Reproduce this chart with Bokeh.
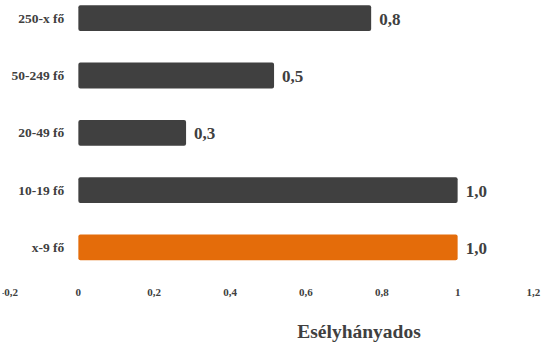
from bokeh.plotting import figure
from bokeh.models import ColumnDataSource, Range1d, FixedTicker, CustomJSTickFormatter, Label
from bokeh.core.properties import value
from bokeh.embed import file_html
from bokeh.resources import INLINE

# Data (bottom to top)
categories = ["x-9 fő", "10-19 fő", "20-49 fő", "50-249 fő", "250-x fő"]
odds = [1.0, 1.0, 0.284, 0.516, 0.772]
value_labels = ["1,0", "1,0", "0,3", "0,5", "0,8"]
bar_colors = ["#E46C0A", "#404040", "#404040", "#404040", "#404040"]
x_ticks = [-0.2, 0, 0.2, 0.4, 0.6, 0.8, 1.0, 1.2]
x_title = "Esélyhányados"

FONT = "Liberation Serif"
TXT = "#404040"

src = ColumnDataSource(dict(
    y=list(range(len(categories))),
    cat=categories,
    v=odds,
    lab=value_labels,
    c=bar_colors,
))

# layout (data units): plot spans these ranges, axis sits at Y_AXIS
X_START, X_END = -0.2, 1.2264
Y_TOP = 4.3083
Y_AXIS = -0.6583
Y_BOTTOM = -1.6583
Y_TITLE = -1.47

p = figure(width=543, height=342, output_backend="svg", toolbar_location=None,
           x_range=Range1d(X_START, X_END), y_range=Range1d(Y_BOTTOM, Y_TOP),
           min_border_left=2, min_border_right=0, min_border_top=0, min_border_bottom=0)
p.outline_line_color = None
p.background_fill_color = "white"
p.border_fill_color = "white"
p.xgrid.visible = False
p.ygrid.visible = False
p.yaxis.visible = False

p.hbar(y="y", right="v", left=0, height=0.45, fill_color="c", line_color=None,
       border_radius=2, source=src)

p.text(x=0, y="y", text="cat", x_offset=-14, text_align="right", text_baseline="middle",
       text_font=value(FONT), text_font_style="bold", text_font_size="13.5px",
       text_color=TXT, source=src)
p.text(x="v", y="y", text="lab", x_offset=8, y_offset=1, text_align="left", text_baseline="middle",
       text_font=value(FONT), text_font_style="bold", text_font_size="17px",
       text_color=TXT, source=src)

xa = p.xaxis[0]
xa.fixed_location = Y_AXIS
xa.ticker = FixedTicker(ticks=x_ticks)
xa.formatter = CustomJSTickFormatter(code="""
    const s = (Math.round(tick * 10) / 10).toString();
    return s.replace('.', ',');
""")
xa.axis_line_color = None
xa.major_tick_line_color = None
xa.minor_tick_line_color = None
xa.major_tick_out = 0
xa.major_tick_in = 0
xa.major_label_standoff = 4
xa.major_label_text_font = FONT
xa.major_label_text_font_style = "bold"
xa.major_label_text_font_size = "11px"
xa.major_label_text_color = TXT

p.add_layout(Label(x=0.74, y=Y_TITLE, text=x_title,
                   text_align="center", text_baseline="alphabetic",
                   text_font=FONT, text_font_style="bold", text_font_size="19.5px",
                   text_color=TXT))

open("out.html", "w").write(file_html(p, INLINE))
